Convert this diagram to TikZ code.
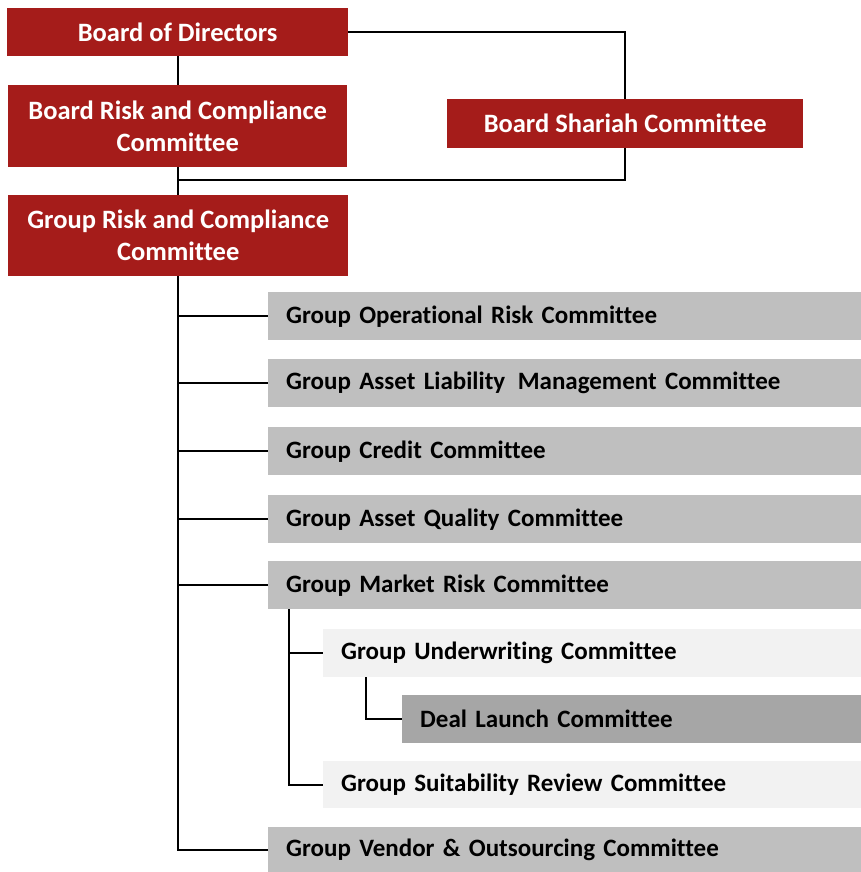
\documentclass[tikz,border=0pt]{standalone}
\usepackage{fontspec}
\setmainfont{Carlito}[Ligatures=NoCommon]
\usetikzlibrary{backgrounds}
\definecolor{boardred}{HTML}{A51C1A}
\definecolor{midgrey}{HTML}{BFBFBF}
\definecolor{palegrey}{HTML}{F2F2F2}
\definecolor{darkgrey}{HTML}{A6A6A6}
\begin{document}
\begin{tikzpicture}[x=1pt,y=-1pt,
  redbox/.style={fill=boardred, text=white, font=\fontsize{26.5}{32}\selectfont\bfseries,
    align=center, inner sep=0pt, anchor=north west},
  greybox/.style={fill=midgrey, text=black, font=\fontsize{25}{28}\selectfont\bfseries,
    align=left, inner sep=0pt, inner xsep=18pt, text width=#1, anchor=north west, minimum height=48pt},
  palebox/.style={greybox=#1, fill=palegrey},
  darkbox/.style={greybox=#1, fill=darkgrey},
  link/.style={draw=black, line width=1.6pt}]
\useasboundingbox (0,0) rectangle (861,872);

% top of the hierarchy
\node[redbox, minimum width=341pt, minimum height=48pt] (bod) at (7,8) {Board of Directors};
\node[redbox, minimum width=339pt, minimum height=82pt] (brcc) at (8,85) {Board Risk and Compliance\\Committee};
\node[redbox, minimum width=340pt, minimum height=81pt] (grcc) at (8,195) {Group Risk and Compliance\\Committee};
\node[redbox, minimum width=356pt, minimum height=49pt] (sh) at (447,99) {Board Shariah Committee};

% group committees
\node[greybox=557pt] (oprisk) at (268,292) {Group Operational Risk Committee};
\node[greybox=557pt] (alm) at (268,359) {Group Asset Liability\, Management Committee};
\node[greybox=557pt] (credit) at (268,427) {Group Credit Committee};
\node[greybox=557pt] (aq) at (268,495) {Group Asset Quality Committee};
\node[greybox=557pt] (mkt) at (268,561) {Group Market Risk Committee};
\node[palebox=502pt] (uw) at (323,629) {Group Underwriting Committee};
\node[darkbox=423pt] (deal) at (402,695) {Deal Launch Committee};
\node[palebox=502pt, minimum height=47pt] (suit) at (323,761) {Group Suitability Review Committee};
\node[greybox=557pt, minimum height=45pt] (vendor) at (268,827) {Group Vendor \& Outsourcing Committee};

\begin{scope}[on background layer]
  \coordinate (j) at (178,180);
  \coordinate (trunk) at (178,0);
  \coordinate (sub) at (289,0);
  \coordinate (subsub) at (366,0);
  \draw[link] (bod.south -| trunk) -- (brcc.north -| trunk);
  \draw[link] (brcc.south -| trunk) -- (grcc.north -| trunk);
  \draw[link] (bod.east) -| (sh.south |- j) -- (j);
  \draw[link] (grcc.south -| trunk) |- (vendor.west);
  \foreach \n in {oprisk,alm,credit,aq,mkt}
    \draw[link] (trunk |- \n.west) -- (\n.west);
  \draw[link] (mkt.south -| sub) |- (suit.west);
  \draw[link] (sub |- uw.west) -- (uw.west);
  \draw[link] (uw.south -| subsub) |- (deal.west);
\end{scope}
\end{tikzpicture}
\end{document}
